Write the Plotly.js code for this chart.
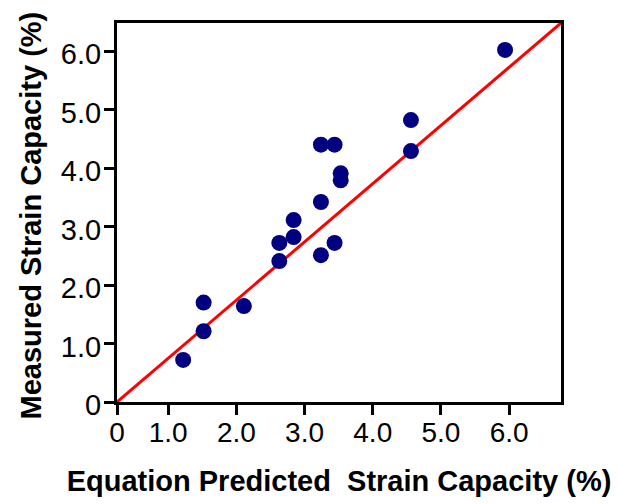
<!DOCTYPE html>
<html><head><meta charset="utf-8">
<script src="https://cdn.plot.ly/plotly-3.0.1.min.js"></script>
<style>html,body{margin:0;padding:0;background:#fff}</style>
</head><body><div id="chart" style="width:617px;height:504px"></div>
<script>
// Data
const predicted = [1.22, 1.52, 1.52, 2.11, 2.63, 2.63, 2.84, 2.84, 3.24, 3.44, 3.53, 3.53, 3.24, 3.24, 3.44, 4.56, 4.56, 5.94];
const measured  = [0.72, 1.70, 1.21, 1.64, 2.72, 2.41, 3.11, 2.82, 4.40, 4.40, 3.91, 3.79, 3.42, 2.51, 2.72, 4.82, 4.29, 6.02];
const xRange = [0.25, 6.76];
const yRange = [0, 6.48];
const lineX = [0.25, 6.76];
const lineY = [0, 6.48];
const xTickVals = [0.25, 1, 2, 3, 4, 5, 6];
const xTickText = ['0', '1.0', '2.0', '3.0', '4.0', '5.0', '6.0'];
const yTickVals = [0, 1, 2, 3, 4, 5, 6];
const yTickText = ['0', '1.0', '2.0', '3.0', '4.0', '5.0', '6.0'];
const xTitle = 'Equation Predicted\u00A0 Strain Capacity (%)';
const yTitle = 'Measured Strain Capacity (%)';

const FONT = 'Liberation Sans, Arial, sans-serif';
const titleFont = {family: FONT, size: 29, color: '#000', weight: 'bold'};

const traces = [
  {x: lineX, y: lineY, mode: 'lines', line: {color: '#ff0000', width: 3}, hoverinfo: 'skip'},
  {x: predicted, y: measured, mode: 'markers', marker: {color: '#000080', size: 16, line: {width: 0}}, cliponaxis: false}
];

const axisCommon = {
  showline: true, linecolor: '#000', linewidth: 3, mirror: true,
  ticks: 'outside', ticklen: 10, tickwidth: 3, tickcolor: '#000',
  showgrid: false, zeroline: false,
  automargin: false
};

const layout = {
  width: 617, height: 504,
  margin: {l: 117, r: 56, t: 23, b: 102},
  paper_bgcolor: '#fff', plot_bgcolor: '#fff',
  showlegend: false,
  xaxis: Object.assign({}, axisCommon, {
    range: xRange, tickmode: 'array', tickvals: xTickVals, ticktext: xTickText,
    tickfont: {family: FONT, size: 28, color: '#000'},
    ticklabelstandoff: -7,
    title: {text: xTitle, font: titleFont, standoff: 25}
  }),
  yaxis: Object.assign({}, axisCommon, {
    range: yRange, tickmode: 'array', tickvals: yTickVals, ticktext: yTickText,
    tickfont: {family: FONT, size: 29, color: '#000'},
    ticklabelstandoff: -3, ticklabelshift: 3
  }),
  annotations: [{
    text: yTitle, font: titleFont, textangle: -90,
    xref: 'paper', yref: 'paper', x: 0, y: 0.5,
    xanchor: 'center', yanchor: 'middle', xshift: -87, yshift: -3,
    showarrow: false
  }]
};

Plotly.newPlot('chart', traces, layout, {displayModeBar: false, staticPlot: true});
</script></body></html>
